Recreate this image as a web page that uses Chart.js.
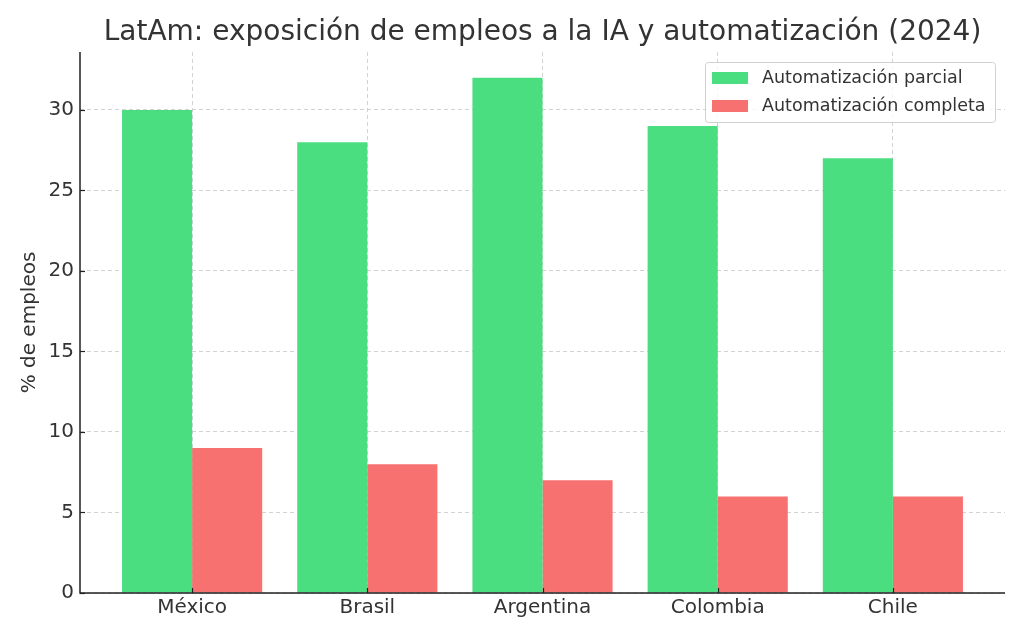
<!DOCTYPE html>
<html>
<head>
<meta charset="utf-8">
<script src="https://cdn.jsdelivr.net/npm/chart.js@4.4.1/dist/chart.umd.min.js"></script>
<style>
html,body{margin:0;padding:0;background:#fff;}
#wrap{width:1024px;height:640px;}
</style>
</head>
<body>
<div id="wrap"><canvas id="c" width="1024" height="640"></canvas></div>
<script>
const TITLE = "LatAm: exposición de empleos a la IA y automatización (2024)";
const Y_LABEL = "% de empleos";
const categories = ["México", "Brasil", "Argentina", "Colombia", "Chile"];
const seriesNames = ["Automatización parcial", "Automatización completa"];
const parcial = [30, 28, 32, 29, 27];
const completa = [9, 8, 7, 6, 6];
const yTicks = [0, 5, 10, 15, 20, 25, 30];

const GREEN = "#4ade80";
const RED = "#f87171";
const FONT = "'DejaVu Sans', sans-serif";
const TEXT = "#333333";

const titlePlugin = {
  id: 'customTitleLegend',
  afterDraw(chart) {
    const ctx = chart.ctx;
    const area = chart.chartArea;
    ctx.save();
    ctx.fillStyle = TEXT;
    ctx.font = "28px " + FONT;
    ctx.textAlign = "center";
    ctx.textBaseline = "middle";
    ctx.fillText(TITLE, (area.left + area.right) / 2, 33);
    ctx.save();
    ctx.translate(30, (area.top + area.bottom) / 2);
    ctx.rotate(-Math.PI / 2);
    ctx.font = "20px " + FONT;
    ctx.fillText(Y_LABEL, 0, 0);
    ctx.restore();
    // solid axis lines (left, bottom)
    ctx.strokeStyle = "#222222";
    ctx.lineWidth = 1.5;
    ctx.beginPath();
    ctx.moveTo(area.left, area.top);
    ctx.lineTo(area.left, area.bottom);
    ctx.lineTo(area.right, area.bottom);
    ctx.stroke();
    // inward ticks
    ctx.lineWidth = 1.2;
    const xs = chart.scales.x;
    categories.forEach((_, i) => {
      const px = Math.round(xs.getPixelForValue(i)) + 0.5;
      ctx.beginPath();
      ctx.moveTo(px, area.bottom);
      ctx.lineTo(px, area.bottom - 5);
      ctx.stroke();
    });
    const ys = chart.scales.y;
    yTicks.forEach(v => {
      const py = Math.round(ys.getPixelForValue(v)) + 0.5;
      ctx.beginPath();
      ctx.moveTo(area.left, py);
      ctx.lineTo(area.left + 5, py);
      ctx.stroke();
    });
    // legend
    const bx = 705, by = 62, bw = 290, bh = 60;
    ctx.fillStyle = "rgba(255,255,255,0.8)";
    ctx.strokeStyle = "#d0d0d0";
    ctx.lineWidth = 1;
    ctx.beginPath();
    if (ctx.roundRect) ctx.roundRect(bx + 0.5, by + 0.5, bw, bh, 3); else ctx.rect(bx + 0.5, by + 0.5, bw, bh);
    ctx.fill();
    ctx.stroke();
    const colors = [GREEN, RED];
    ctx.font = "17.5px " + FONT;
    ctx.textAlign = "left";
    ctx.textBaseline = "middle";
    chart.data.datasets.forEach((ds, i) => {
      const cy = 78 + i * 28;
      ctx.fillStyle = colors[i];
      ctx.fillRect(712, cy - 6, 36, 12);
      ctx.fillStyle = TEXT;
      ctx.fillText(ds.label, 762, cy);
    });
    ctx.restore();
  }
};

new Chart(document.getElementById('c'), {
  type: 'bar',
  data: {
    datasets: [
      { label: seriesNames[0], data: parcial.map((v, i) => ({x: i, y: v})), backgroundColor: GREEN, borderWidth: 0 },
      { label: seriesNames[1], data: completa.map((v, i) => ({x: i, y: v})), backgroundColor: RED, borderWidth: 0 }
    ]
  },
  options: {
    responsive: false,
    animation: false,
    devicePixelRatio: 1,
    layout: { padding: { top: 52, right: 19, bottom: 0, left: 0 } },
    datasets: { bar: { categoryPercentage: 0.8, barPercentage: 1.0 } },
    plugins: {
      legend: { display: false },
      title: { display: false },
      tooltip: { enabled: false }
    },
    scales: {
      x: {
        type: 'linear',
        offset: false,
        min: -0.64,
        max: 4.64,
        afterBuildTicks(scale) { scale.ticks = categories.map((_, i) => ({value: i})); },
        afterFit(scale) { scale.height = 47; },
        ticks: {
          callback: (v) => categories[Math.round(v)],
          font: { family: FONT, size: 20 },
          color: TEXT,
          padding: 3,
          maxRotation: 0,
          autoSkip: false
        },
        grid: { offset: false, color: "#d2d2d2", lineWidth: 1, drawTicks: false, tickLength: 0 },
        border: { display: false, dash: [4, 3] }
      },
      y: {
        min: 0,
        max: 33.6,
        afterBuildTicks(scale) { scale.ticks = yTicks.map(v => ({value: v})); },
        afterFit(scale) { scale.width = 80; },
        ticks: {
          font: { family: FONT, size: 20 },
          color: TEXT,
          padding: 6
        },
        grid: { color: "#d2d2d2", lineWidth: 1, drawTicks: false, tickLength: 0 },
        border: { display: false, dash: [4, 3] }
      }
    }
  },
  plugins: [titlePlugin]
});
</script>
</body>
</html>
